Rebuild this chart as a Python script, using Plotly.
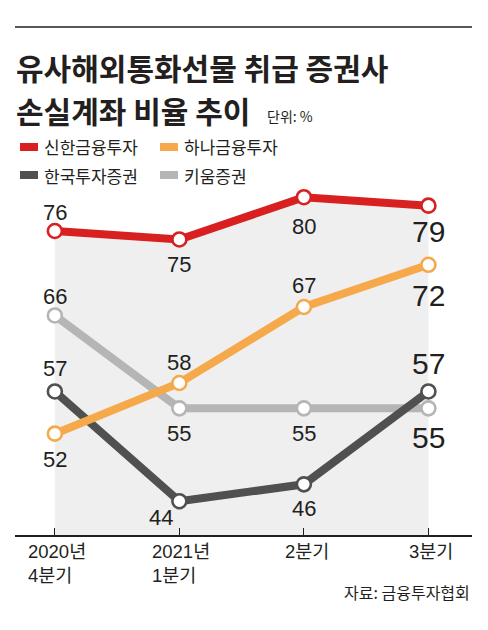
import plotly.graph_objects as go

# ---- data ----
categories = ["2020년<br>4분기", "2021년<br>1분기", "2분기", "3분기"]
series_names = ["신한금융투자", "하나금융투자", "한국투자증권", "키움증권"]
shinhan = [76, 75, 80, 79]
hana = [52, 58, 67, 72]
hanguk = [57, 44, 46, 57]
kiwoom = [66, 55, 55, 55]

title_line1 = "유사해외통화선물 취급 증권사"
title_line2 = "손실계좌 비율 추이"
unit_text = "단위: %"
source_text = "자료: 금융투자협회"

# ---- styles ----
RED = "#d7201f"
ORANGE = "#f5a94b"
DARK = "#505050"
LIGHT = "#b5b5b5"
FILL = "#efefef"
TXT = "#231f20"
KR = "Noto Sans CJK KR"
NUM = "Liberation Sans, Arial, Noto Sans CJK KR"

W, H = 488, 630
L, R, T, B = 15, 16, 155, 95
PW = W - L - R
PH = H - T - B

def px_x(px):
    return (px - L) / PW

def px_y(py):
    return (H - B - py) / PH

xs = list(range(len(categories)))

fig = go.Figure()

# gray area under the top (red) series
fig.add_trace(go.Scatter(x=xs, y=shinhan, mode="lines", fill="tozeroy",
                         fillcolor=FILL, line=dict(width=0, color=FILL),
                         hoverinfo="skip", showlegend=False))

order = [(kiwoom, LIGHT), (hanguk, DARK), (hana, ORANGE), (shinhan, RED)]
for vals, col in order:
    fig.add_trace(go.Scatter(
        x=xs, y=vals, mode="lines+markers",
        line=dict(color=col, width=8),
        marker=dict(size=14, color="white", line=dict(color=col, width=2.6)),
        showlegend=False))

# value labels: (series, per-point yshift, per-point xshift)
label_specs = [
    (shinhan, [19, -25, -29, -26], [0, 0, 0, 0]),
    (hana, [-26, 21, 22, -31], [0, 0, 0, 0]),
    (hanguk, [23, -16, -24, 28], [0, -18, 0, 0]),
    (kiwoom, [19, -25, -25, -29], [0, 0, 0, 0]),
]
annotations = []
for vals, shifts, xsh in label_specs:
    for i, v in enumerate(vals):
        last = i == len(vals) - 1
        annotations.append(dict(
            x=xs[i], y=v, xref="x", yref="y", text=str(v), showarrow=False,
            xanchor="center", yanchor="middle", yshift=shifts[i], xshift=xsh[i],
            font=dict(family=NUM, size=30 if last else 22, color=TXT)))

# category labels (left-aligned lines)
for i, c in enumerate(categories):
    annotations.append(dict(
        x=xs[i], y=0, xref="x", yref="paper", text=c, showarrow=False,
        xanchor="center", yanchor="top", align="left", yshift=-4,
        xshift=3 if i > 1 else 2,
        font=dict(family=NUM, size=18.5, color=TXT)))

# titles
annotations.append(dict(x=px_x(14), y=px_y(67), xref="paper", yref="paper",
                        text="<b>" + title_line1 + "</b>", showarrow=False,
                        xanchor="left", yanchor="middle",
                        font=dict(family=KR, size=30, color=TXT)))
annotations.append(dict(x=px_x(14), y=px_y(110), xref="paper", yref="paper",
                        text="<b>" + title_line2 + "</b>", showarrow=False,
                        xanchor="left", yanchor="middle",
                        font=dict(family=KR, size=30, color=TXT)))
annotations.append(dict(x=px_x(265), y=px_y(116), xref="paper", yref="paper",
                        text=unit_text, showarrow=False,
                        xanchor="left", yanchor="middle",
                        font=dict(family=KR, size=14, color=TXT)))
annotations.append(dict(x=1, y=px_y(592), xref="paper", yref="paper",
                        text=source_text, showarrow=False,
                        xanchor="right", yanchor="middle",
                        font=dict(family=KR, size=16, color=TXT)))

shapes = [dict(type="line", xref="paper", yref="paper",
               x0=0, x1=1, y0=px_y(27), y1=px_y(27),
               line=dict(color=TXT, width=1.5))]

# manual legend
leg_colors = [RED, ORANGE, DARK, LIGHT]
leg_pos = [(20, 147), (160, 147), (20, 175), (160, 175)]
for name, col, (lx, ly) in zip(series_names, leg_colors, leg_pos):
    shapes.append(dict(type="rect", xref="paper", yref="paper",
                       x0=px_x(lx), x1=px_x(lx + 18),
                       y0=px_y(ly + 4), y1=px_y(ly - 4),
                       fillcolor=col, line=dict(width=0)))
    annotations.append(dict(x=px_x(lx + 22), y=px_y(ly), xref="paper", yref="paper",
                            text=name, showarrow=False, xanchor="left",
                            yanchor="middle",
                            font=dict(family=KR, size=17, color=TXT)))

fig.update_layout(
    width=W, height=H,
    margin=dict(l=L, r=R, t=T, b=B, autoexpand=False),
    paper_bgcolor="white", plot_bgcolor="white",
    showlegend=False,
    xaxis=dict(range=[-0.32, 3.35], tickvals=xs, ticktext=[""] * len(xs),
               showgrid=False, zeroline=False, showline=True,
               linecolor=TXT, linewidth=1.5, ticks="inside", ticklen=7,
               tickcolor=TXT, tickwidth=1.2, automargin=False, fixedrange=True),
    yaxis=dict(range=[40, 85], visible=False, showgrid=False, zeroline=False,
               fixedrange=True),
    annotations=annotations,
    shapes=shapes,
)

fig.write_html("out.html")
